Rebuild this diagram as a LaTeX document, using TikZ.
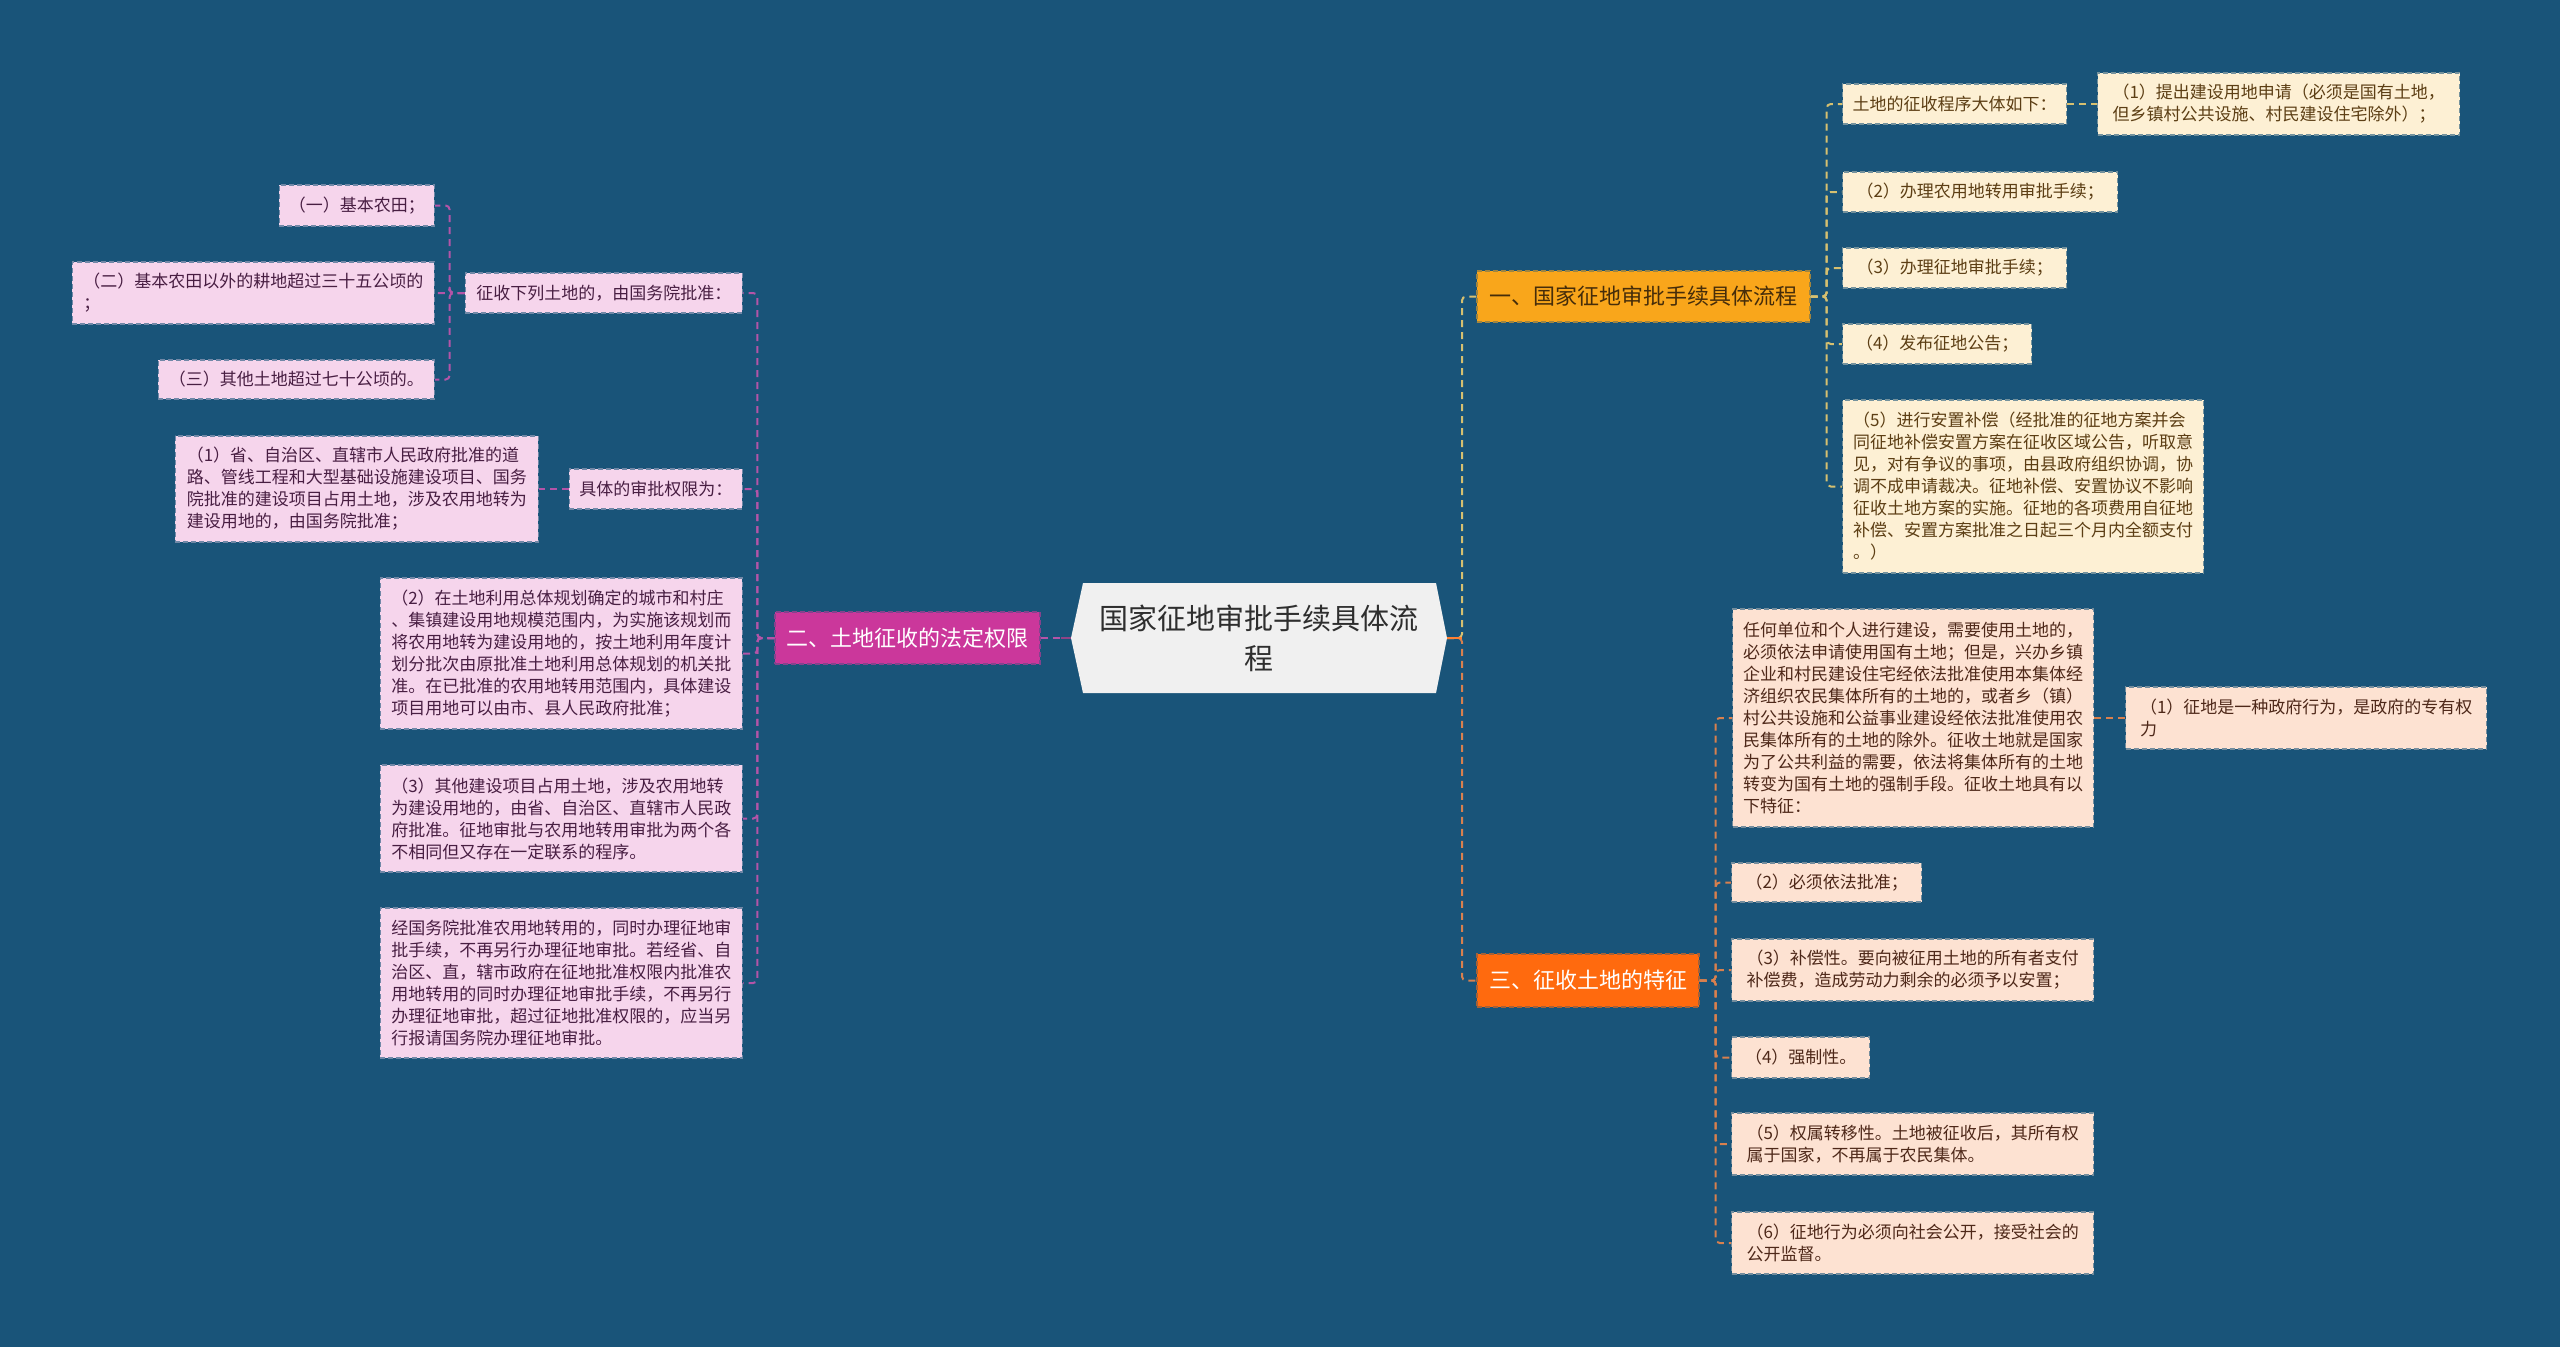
\documentclass[tikz,border=0pt]{standalone}
\usepackage{fontspec}
\setmainfont{Noto Sans CJK SC}
\definecolor{bg}{RGB}{25,84,121}
\definecolor{rootfill}{RGB}{240,240,240}
\definecolor{yfill}{RGB}{253,240,212}
\definecolor{yline}{RGB}{214,192,112}
\definecolor{ytext}{RGB}{92,62,20}
\definecolor{brone}{RGB}{249,166,27}
\definecolor{bronetext}{RGB}{70,45,10}
\definecolor{pfill}{RGB}{246,213,236}
\definecolor{pline}{RGB}{180,84,168}
\definecolor{ptext}{RGB}{72,30,66}
\definecolor{brtwo}{RGB}{203,55,155}
\definecolor{ofill}{RGB}{253,226,210}
\definecolor{oline}{RGB}{216,128,78}
\definecolor{otext}{RGB}{78,40,25}
\definecolor{brthree}{RGB}{255,106,14}
\begin{document}
\begin{tikzpicture}[x=1pt,y=-1pt,
  every node/.style={font=\fontsize{17}{22}\selectfont, inner xsep=9pt, inner ysep=5pt},
  boxY/.style={draw=yfill!40!bg, fill=yfill, text=ytext, dash pattern=on 5pt off 3pt, line width=1.4pt, align=left},
  boxP/.style={draw=pfill!40!bg, fill=pfill, text=ptext, dash pattern=on 5pt off 3pt, line width=1.4pt, align=left},
  boxO/.style={draw=ofill!40!bg, fill=ofill, text=otext, dash pattern=on 5pt off 3pt, line width=1.4pt, align=left},
  brbox/.style={dash pattern=on 5pt off 3pt, line width=1.4pt, align=center, font=\fontsize{22}{26}\selectfont},
  conY/.style={draw=yline, line width=2pt, dash pattern=on 7pt off 5pt, rounded corners=4pt},
  conP/.style={draw=pline, line width=2pt, dash pattern=on 7pt off 5pt, rounded corners=4pt},
  conO/.style={draw=oline, line width=2pt, dash pattern=on 7pt off 5pt, rounded corners=4pt}
]
\useasboundingbox (0,0) rectangle (2560,1347);
\fill[bg] (0,0) rectangle (2560,1347);

% root
\fill[rootfill] (1083,583) -- (1436,583) -- (1447,638) -- (1436,693) -- (1083,693) -- (1071,638) -- cycle;
\coordinate (rootL) at (1071,638);
\coordinate (rootR) at (1447,638);
\node[font=\fontsize{29}{40}\selectfont, text=black!82, align=center] (root) at (1259,638) {国家征地审批手续具体流\\程};

% branches
\node[brbox, fill=brone, draw=brone!60!bg, text=bronetext, minimum width=333pt, minimum height=51pt] (b1) at (1643.5,296.5) {一、国家征地审批手续具体流程};
\node[brbox, fill=brtwo, draw=brtwo!60!bg, text=white, minimum width=265pt, minimum height=52pt] (b2) at (907.5,638) {二、土地征收的法定权限};
\node[brbox, fill=brthree, draw=brthree!60!bg, text=white, minimum width=222pt, minimum height=53pt] (b3) at (1588,980.5) {三、征收土地的特征};

% branch 1 children
\node[boxY, anchor=west, minimum width=224pt, minimum height=40pt] (k0) at (1842,104) {土地的征收程序大体如下：};
\node[boxY, anchor=west, minimum width=362pt, minimum height=62pt] (k1) at (2097,104) {（1）提出建设用地申请（必须是国有土地，\\但乡镇村公共设施、村民建设住宅除外）；};
\node[boxY, anchor=west, minimum width=275pt, minimum height=40pt] (k2) at (1842,192) {（2）办理农用地转用审批手续；};
\node[boxY, anchor=west, minimum width=224pt, minimum height=40pt] (k3) at (1842,268) {（3）办理征地审批手续；};
\node[boxY, anchor=west, minimum width=189pt, minimum height=40pt] (k4) at (1842,344) {（4）发布征地公告；};
\node[boxY, anchor=west, minimum width=361pt, minimum height=173pt] (k5) at (1842,486.5) {（5）进行安置补偿（经批准的征地方案并会\\同征地补偿安置方案在征收区域公告，听取意\\见，对有争议的事项，由县政府组织协调，协\\调不成申请裁决。征地补偿、安置协议不影响\\征收土地方案的实施。征地的各项费用自征地\\补偿、安置方案批准之日起三个月内全额支付\\。）};

% branch 3 children
\node[boxO, anchor=west, minimum width=361pt, minimum height=218pt] (m0) at (1732,718) {任何单位和个人进行建设，需要使用土地的，\\必须依法申请使用国有土地；但是，兴办乡镇\\企业和村民建设住宅经依法批准使用本集体经\\济组织农民集体所有的土地的，或者乡（镇）\\村公共设施和公益事业建设经依法批准使用农\\民集体所有的土地的除外。征收土地就是国家\\为了公共利益的需要，依法将集体所有的土地\\转变为国有土地的强制手段。征收土地具有以\\下特征：};
\node[boxO, anchor=west, minimum width=361pt, minimum height=62pt] (m1) at (2125,718) {（1）征地是一种政府行为，是政府的专有权\\力};
\node[boxO, anchor=west, minimum width=190pt, minimum height=39pt] (m2) at (1731,882.5) {（2）必须依法批准；};
\node[boxO, anchor=west, minimum width=362pt, minimum height=62pt] (m3) at (1731,970) {（3）补偿性。要向被征用土地的所有者支付\\补偿费，造成劳动力剩余的必须予以安置；};
\node[boxO, anchor=west, minimum width=138pt, minimum height=41pt] (m4) at (1731,1057.5) {（4）强制性。};
\node[boxO, anchor=west, minimum width=362pt, minimum height=62pt] (m5) at (1731,1144) {（5）权属转移性。土地被征收后，其所有权\\属于国家，不再属于农民集体。};
\node[boxO, anchor=west, minimum width=362pt, minimum height=62pt] (m6) at (1731,1243) {（6）征地行为必须向社会公开，接受社会的\\公开监督。};

% branch 2 children
\node[boxP, anchor=east, minimum width=277pt, minimum height=40pt] (l1) at (743,293) {征收下列土地的，由国务院批准：};
\node[boxP, anchor=east, minimum width=155pt, minimum height=41pt] (l1a) at (435,205.5) {（一）基本农田；};
\node[boxP, anchor=east, minimum width=362pt, minimum height=62pt] (l1b) at (435,293) {（二）基本农田以外的耕地超过三十五公顷的\\；};
\node[boxP, anchor=east, minimum width=276pt, minimum height=39pt] (l1c) at (435,379.5) {（三）其他土地超过七十公顷的。};
\node[boxP, anchor=east, minimum width=173pt, minimum height=40pt] (l2) at (743,489) {具体的审批权限为：};
\node[boxP, anchor=east, minimum width=363pt, minimum height=106pt] (l2a) at (539,489) {（1）省、自治区、直辖市人民政府批准的道\\路、管线工程和大型基础设施建设项目、国务\\院批准的建设项目占用土地，涉及农用地转为\\建设用地的，由国务院批准；};
\node[boxP, anchor=east, minimum width=362pt, minimum height=151pt] (l3) at (743,653.5) {（2）在土地利用总体规划确定的城市和村庄\\、集镇建设用地规模范围内，为实施该规划而\\将农用地转为建设用地的，按土地利用年度计\\划分批次由原批准土地利用总体规划的机关批\\准。在已批准的农用地转用范围内，具体建设\\项目用地可以由市、县人民政府批准；};
\node[boxP, anchor=east, minimum width=362pt, minimum height=107pt] (l4) at (743,818.5) {（3）其他建设项目占用土地，涉及农用地转\\为建设用地的，由省、自治区、直辖市人民政\\府批准。征地审批与农用地转用审批为两个各\\不相同但又存在一定联系的程序。};
\node[boxP, anchor=east, minimum width=362pt, minimum height=150pt] (l5) at (743,983) {经国务院批准农用地转用的，同时办理征地审\\批手续，不再另行办理征地审批。若经省、自\\治区、直，辖市政府在征地批准权限内批准农\\用地转用的同时办理征地审批手续，不再另行\\办理征地审批，超过征地批准权限的，应当另\\行报请国务院办理征地审批。};

% connectors: root
\draw[conY] (rootR) -- ++(15,0) |- (b1.west);
\draw[conO] (rootR) -- ++(15,0) |- (b3.west);
\draw[draw=brthree!85!white, line width=2.4pt] (rootR) -- ++(15,0);
\draw[conP] (b2.east) -- (rootL);
\draw[draw=pline!80!black, line width=2.4pt] ([xshift=-10pt]rootL) -- (rootL);

% branch 1
\foreach \k in {k0,k2,k3,k4,k5} {\draw[conY] (b1.east) -- ++(16,0) |- (\k.west);}
\draw[conY] (k0.east) -- (k1.west);

% branch 3
\foreach \k in {m0,m2,m3,m4,m5,m6} {\draw[conO] (b3.east) -- ++(16,0) |- (\k.west);}
\draw[conO] (m0.east) -- (m1.west);

% branch 2
\foreach \k in {l1,l2,l3,l4,l5} {\draw[conP] (b2.west) -- ++(-17,0) |- (\k.east);}
\foreach \k in {l1a,l1b,l1c} {\draw[conP] (l1.west) -- ++(-15,0) |- (\k.east);}
\draw[conP] (l2.west) -- (l2a.east);
\end{tikzpicture}
\end{document}
